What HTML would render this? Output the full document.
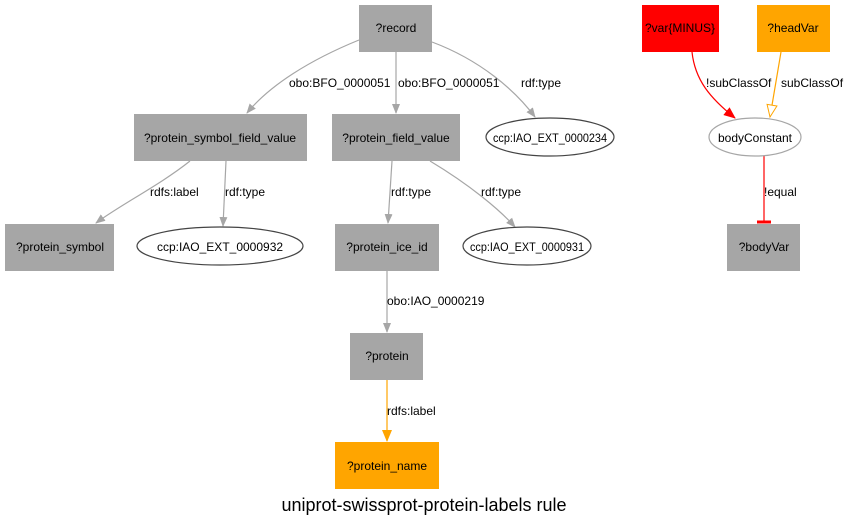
<!DOCTYPE html>
<html><head><meta charset="utf-8"><style>
html,body{margin:0;padding:0;background:#fff;}
svg{display:block;font-family:"Liberation Sans",Arial,sans-serif;}
</style></head><body>
<svg width="849" height="528" viewBox="0 0 849 528" xmlns="http://www.w3.org/2000/svg">
<defs>
<marker id="ag" markerWidth="10" markerHeight="10" refX="9" refY="5" orient="auto" markerUnits="userSpaceOnUse"><path d="M0,1 L10,5 L0,9 z" fill="#a6a6a6"/></marker>
<marker id="ar" markerWidth="12" markerHeight="12" refX="11" refY="6" orient="auto" markerUnits="userSpaceOnUse"><path d="M0,1 L12,6 L0,11 z" fill="#ff0000"/></marker>
<marker id="ao" markerWidth="14" markerHeight="12" refX="13" refY="6" orient="auto" markerUnits="userSpaceOnUse"><path d="M1,1 L13,6 L1,11 z" fill="#fff" stroke="#ffa500"/></marker>
<marker id="af" markerWidth="12" markerHeight="12" refX="11" refY="6" orient="auto" markerUnits="userSpaceOnUse"><path d="M0,1 L12,6 L0,11 z" fill="#ffa500"/></marker>
</defs>
<g fill="none" stroke="#a6a6a6" stroke-width="1.2">
<path d="M359,40 C310,60 270,85 247,113" marker-end="url(#ag)"/>
<path d="M396,52 L396,113" marker-end="url(#ag)"/>
<path d="M432,42 C480,60 515,90 535,117" marker-end="url(#ag)"/>
<path d="M190,161 C160,185 120,205 96,223" marker-end="url(#ag)"/>
<path d="M226,161 L223,226" marker-end="url(#ag)"/>
<path d="M392,161 L388,223" marker-end="url(#ag)"/>
<path d="M430,161 C470,185 500,210 515,227" marker-end="url(#ag)"/>
<path d="M387,271 L387,332" marker-end="url(#ag)"/>
</g>
<path d="M387,380 L387,441" stroke="#ffa500" stroke-width="1.2" fill="none" marker-end="url(#af)"/>
<path d="M692,52 C695,80 710,98 735,118" stroke="#ff0000" stroke-width="1.2" fill="none" marker-end="url(#ar)"/>
<path d="M781,52 L770,117" stroke="#ffa500" stroke-width="1.2" fill="none" marker-end="url(#ao)"/>
<path d="M764,156 L764,221" stroke="#ff0000" stroke-width="1.2"/>
<path d="M757,222 L771,222" stroke="#ff0000" stroke-width="3"/>
<g fill="#a6a6a6">
<rect x="359" y="5" width="73" height="47"/>
<rect x="134" y="114" width="173" height="47"/>
<rect x="332" y="114" width="128" height="47"/>
<rect x="5" y="224" width="109" height="47"/>
<rect x="335" y="224" width="104" height="47"/>
<rect x="727" y="224" width="73" height="47"/>
<rect x="350" y="333" width="73" height="47"/>
</g>
<rect x="642" y="5" width="77" height="47" fill="#ff0000"/>
<rect x="757" y="5" width="73" height="47" fill="#ffa500"/>
<rect x="335" y="442" width="104" height="47" fill="#ffa500"/>
<g fill="#fff" stroke="#444" stroke-width="1.2">
<ellipse cx="550" cy="137" rx="64" ry="19"/>
<ellipse cx="220" cy="246" rx="83" ry="19"/>
<ellipse cx="527" cy="246" rx="64" ry="19"/>
</g>
<ellipse cx="755" cy="137" rx="46" ry="19" fill="#fff" stroke="#a6a6a6" stroke-width="1.2"/>
<g font-size="12" fill="#000" text-anchor="middle">
<text x="396" y="32">?record</text>
<text x="680" y="32">?var{MINUS}</text>
<text x="793" y="32">?headVar</text>
<text x="220" y="142">?protein_symbol_field_value</text>
<text x="396" y="142">?protein_field_value</text>
<text x="550" y="142" textLength="114" lengthAdjust="spacingAndGlyphs">ccp:IAO_EXT_0000234</text>
<text x="755" y="142">bodyConstant</text>
<text x="60" y="251">?protein_symbol</text>
<text x="220" y="251">ccp:IAO_EXT_0000932</text>
<text x="387" y="251">?protein_ice_id</text>
<text x="527" y="251" textLength="114" lengthAdjust="spacingAndGlyphs">ccp:IAO_EXT_0000931</text>
<text x="764" y="251">?bodyVar</text>
<text x="387" y="360">?protein</text>
<text x="387" y="470">?protein_name</text>
</g>
<g font-size="12" fill="#000">
<text x="289" y="87">obo:BFO_0000051</text>
<text x="398" y="87">obo:BFO_0000051</text>
<text x="521" y="87">rdf:type</text>
<text x="706" y="87">!subClassOf</text>
<text x="781" y="87">subClassOf</text>
<text x="150" y="196">rdfs:label</text>
<text x="225" y="196">rdf:type</text>
<text x="391" y="196">rdf:type</text>
<text x="481" y="196">rdf:type</text>
<text x="764" y="196">!equal</text>
<text x="387" y="305">obo:IAO_0000219</text>
<text x="387" y="415">rdfs:label</text>
</g>
<text x="424" y="511" font-size="18" text-anchor="middle" fill="#000">uniprot-swissprot-protein-labels rule</text>
</svg>
</body></html>
